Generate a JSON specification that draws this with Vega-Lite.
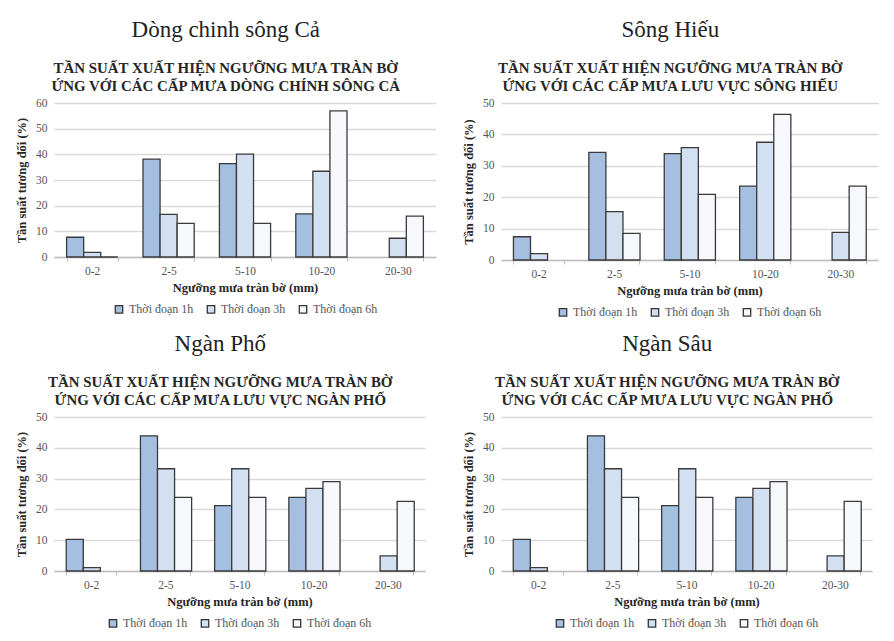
{
  "$schema": "https://vega.github.io/schema/vega-lite/v6.json",
  "background": "white",
  "padding": {"left": 15, "top": 19, "right": 4, "bottom": 2},
  "data": {"values": [
    {"panel": "TL", "range": "0-2", "duration": "Thời đoạn 1h", "value": 7.7},
    {"panel": "TL", "range": "0-2", "duration": "Thời đoạn 3h", "value": 1.8},
    {"panel": "TL", "range": "0-2", "duration": "Thời đoạn 6h", "value": 0},
    {"panel": "TL", "range": "2-5", "duration": "Thời đoạn 1h", "value": 38.1},
    {"panel": "TL", "range": "2-5", "duration": "Thời đoạn 3h", "value": 16.6},
    {"panel": "TL", "range": "2-5", "duration": "Thời đoạn 6h", "value": 13.1},
    {"panel": "TL", "range": "5-10", "duration": "Thời đoạn 1h", "value": 36.4},
    {"panel": "TL", "range": "5-10", "duration": "Thời đoạn 3h", "value": 40.1},
    {"panel": "TL", "range": "5-10", "duration": "Thời đoạn 6h", "value": 13.1},
    {"panel": "TL", "range": "10-20", "duration": "Thời đoạn 1h", "value": 16.8},
    {"panel": "TL", "range": "10-20", "duration": "Thời đoạn 3h", "value": 33.4},
    {"panel": "TL", "range": "10-20", "duration": "Thời đoạn 6h", "value": 56.9},
    {"panel": "TL", "range": "20-30", "duration": "Thời đoạn 3h", "value": 7.3},
    {"panel": "TL", "range": "20-30", "duration": "Thời đoạn 6h", "value": 15.9},
    {"panel": "TR", "range": "0-2", "duration": "Thời đoạn 1h", "value": 7.4},
    {"panel": "TR", "range": "0-2", "duration": "Thời đoạn 3h", "value": 2.0},
    {"panel": "TR", "range": "2-5", "duration": "Thời đoạn 1h", "value": 34.3},
    {"panel": "TR", "range": "2-5", "duration": "Thời đoạn 3h", "value": 15.4},
    {"panel": "TR", "range": "2-5", "duration": "Thời đoạn 6h", "value": 8.5},
    {"panel": "TR", "range": "5-10", "duration": "Thời đoạn 1h", "value": 33.9},
    {"panel": "TR", "range": "5-10", "duration": "Thời đoạn 3h", "value": 35.8},
    {"panel": "TR", "range": "5-10", "duration": "Thời đoạn 6h", "value": 20.9},
    {"panel": "TR", "range": "10-20", "duration": "Thời đoạn 1h", "value": 23.5},
    {"panel": "TR", "range": "10-20", "duration": "Thời đoạn 3h", "value": 37.5},
    {"panel": "TR", "range": "10-20", "duration": "Thời đoạn 6h", "value": 46.4},
    {"panel": "TR", "range": "20-30", "duration": "Thời đoạn 3h", "value": 8.8},
    {"panel": "TR", "range": "20-30", "duration": "Thời đoạn 6h", "value": 23.5},
    {"panel": "BL", "range": "0-2", "duration": "Thời đoạn 1h", "value": 10.3},
    {"panel": "BL", "range": "0-2", "duration": "Thời đoạn 3h", "value": 1.1},
    {"panel": "BL", "range": "2-5", "duration": "Thời đoạn 1h", "value": 43.9},
    {"panel": "BL", "range": "2-5", "duration": "Thời đoạn 3h", "value": 33.2},
    {"panel": "BL", "range": "2-5", "duration": "Thời đoạn 6h", "value": 23.9},
    {"panel": "BL", "range": "5-10", "duration": "Thời đoạn 1h", "value": 21.2},
    {"panel": "BL", "range": "5-10", "duration": "Thời đoạn 3h", "value": 33.2},
    {"panel": "BL", "range": "5-10", "duration": "Thời đoạn 6h", "value": 23.9},
    {"panel": "BL", "range": "10-20", "duration": "Thời đoạn 1h", "value": 23.9},
    {"panel": "BL", "range": "10-20", "duration": "Thời đoạn 3h", "value": 26.8},
    {"panel": "BL", "range": "10-20", "duration": "Thời đoạn 6h", "value": 29.0},
    {"panel": "BL", "range": "20-30", "duration": "Thời đoạn 3h", "value": 4.9},
    {"panel": "BL", "range": "20-30", "duration": "Thời đoạn 6h", "value": 22.6},
    {"panel": "BR", "range": "0-2", "duration": "Thời đoạn 1h", "value": 10.3},
    {"panel": "BR", "range": "0-2", "duration": "Thời đoạn 3h", "value": 1.1},
    {"panel": "BR", "range": "2-5", "duration": "Thời đoạn 1h", "value": 43.9},
    {"panel": "BR", "range": "2-5", "duration": "Thời đoạn 3h", "value": 33.2},
    {"panel": "BR", "range": "2-5", "duration": "Thời đoạn 6h", "value": 23.9},
    {"panel": "BR", "range": "5-10", "duration": "Thời đoạn 1h", "value": 21.2},
    {"panel": "BR", "range": "5-10", "duration": "Thời đoạn 3h", "value": 33.2},
    {"panel": "BR", "range": "5-10", "duration": "Thời đoạn 6h", "value": 23.9},
    {"panel": "BR", "range": "10-20", "duration": "Thời đoạn 1h", "value": 23.9},
    {"panel": "BR", "range": "10-20", "duration": "Thời đoạn 3h", "value": 26.8},
    {"panel": "BR", "range": "10-20", "duration": "Thời đoạn 6h", "value": 29.0},
    {"panel": "BR", "range": "20-30", "duration": "Thời đoạn 3h", "value": 4.9},
    {"panel": "BR", "range": "20-30", "duration": "Thời đoạn 6h", "value": 22.6}
  ]},
  "columns": 2,
  "spacing": {"row": 14, "column": 26},
  "resolve": {"scale": {"y": "independent", "x": "independent"}, "legend": {"fill": "independent"}},
  "concat": [
    {
      "width": 382, "height": 154,
      "title": {"text": "Dòng chinh  sông Cả", "subtitle": ["TẦN SUẤT XUẤT HIỆN NGƯỠNG MƯA TRÀN BỜ", "ỨNG VỚI CÁC CẤP MƯA DÒNG CHÍNH  SÔNG CẢ"]},
      "transform": [{"filter": "datum.panel === 'TL'"}],
      "mark": {"type": "bar", "stroke": "#3a3a3a", "strokeWidth": 1.3},
      "encoding": {
        "x": {"field": "range", "type": "nominal", "sort": ["0-2", "2-5", "5-10", "10-20", "20-30"], "scale": {"paddingInner": 0.33, "paddingOuter": 0.165}, "title": "Ngưỡng mưa tràn bờ (mm)"},
        "xOffset": {"field": "duration", "type": "nominal", "scale": {"domain": ["Thời đoạn 1h", "Thời đoạn 3h", "Thời đoạn 6h"], "paddingInner": 0, "paddingOuter": 0}},
        "y": {"field": "value", "type": "quantitative", "scale": {"domain": [0, 60]}, "axis": {"values": [0, 10, 20, 30, 40, 50, 60]}, "title": "Tần suất tương đối (%)"},
        "fill": {"field": "duration", "type": "nominal", "scale": {"domain": ["Thời đoạn 1h", "Thời đoạn 3h", "Thời đoạn 6h"], "range": ["#a5bfe0", "#d3e0f1", "#f6f8fc"]}}
      }
    },
    {
      "width": 377, "height": 157,
      "title": {"text": "Sông Hiếu", "subtitle": ["TẦN SUẤT XUẤT HIỆN NGƯỠNG MƯA TRÀN BỜ", "ỨNG VỚI CÁC CẤP MƯA LƯU VỰC SÔNG HIẾU"]},
      "transform": [{"filter": "datum.panel === 'TR'"}],
      "mark": {"type": "bar", "stroke": "#3a3a3a", "strokeWidth": 1.3},
      "encoding": {
        "x": {"field": "range", "type": "nominal", "sort": ["0-2", "2-5", "5-10", "10-20", "20-30"], "scale": {"paddingInner": 0.33, "paddingOuter": 0.165}, "title": "Ngưỡng mưa tràn bờ (mm)"},
        "xOffset": {"field": "duration", "type": "nominal", "scale": {"domain": ["Thời đoạn 1h", "Thời đoạn 3h", "Thời đoạn 6h"], "paddingInner": 0, "paddingOuter": 0}},
        "y": {"field": "value", "type": "quantitative", "scale": {"domain": [0, 50]}, "axis": {"values": [0, 10, 20, 30, 40, 50]}, "title": "Tần suất tương đối (%)"},
        "fill": {"field": "duration", "type": "nominal", "scale": {"domain": ["Thời đoạn 1h", "Thời đoạn 3h", "Thời đoạn 6h"], "range": ["#a5bfe0", "#d3e0f1", "#f6f8fc"]}}
      }
    },
    {
      "width": 371, "height": 154,
      "title": {"text": "Ngàn Phố", "subtitle": ["TẦN SUẤT XUẤT HIỆN NGƯỠNG MƯA TRÀN BỜ", "ỨNG VỚI CÁC CẤP MƯA LƯU VỰC NGÀN PHỐ"]},
      "transform": [{"filter": "datum.panel === 'BL'"}],
      "mark": {"type": "bar", "stroke": "#3a3a3a", "strokeWidth": 1.3},
      "encoding": {
        "x": {"field": "range", "type": "nominal", "sort": ["0-2", "2-5", "5-10", "10-20", "20-30"], "scale": {"paddingInner": 0.33, "paddingOuter": 0.165}, "title": "Ngưỡng mưa tràn bờ (mm)"},
        "xOffset": {"field": "duration", "type": "nominal", "scale": {"domain": ["Thời đoạn 1h", "Thời đoạn 3h", "Thời đoạn 6h"], "paddingInner": 0, "paddingOuter": 0}},
        "y": {"field": "value", "type": "quantitative", "scale": {"domain": [0, 50]}, "axis": {"values": [0, 10, 20, 30, 40, 50]}, "title": "Tần suất tương đối (%)"},
        "fill": {"field": "duration", "type": "nominal", "scale": {"domain": ["Thời đoạn 1h", "Thời đoạn 3h", "Thời đoạn 6h"], "range": ["#a5bfe0", "#d3e0f1", "#f6f8fc"]}}
      }
    },
    {
      "width": 371, "height": 154,
      "title": {"text": "Ngàn Sâu", "subtitle": ["TẦN SUẤT XUẤT HIỆN NGƯỠNG MƯA TRÀN BỜ", "ỨNG VỚI CÁC CẤP MƯA LƯU VỰC NGÀN PHỐ"]},
      "transform": [{"filter": "datum.panel === 'BR'"}],
      "mark": {"type": "bar", "stroke": "#3a3a3a", "strokeWidth": 1.3},
      "encoding": {
        "x": {"field": "range", "type": "nominal", "sort": ["0-2", "2-5", "5-10", "10-20", "20-30"], "scale": {"paddingInner": 0.33, "paddingOuter": 0.165}, "title": "Ngưỡng mưa tràn bờ (mm)"},
        "xOffset": {"field": "duration", "type": "nominal", "scale": {"domain": ["Thời đoạn 1h", "Thời đoạn 3h", "Thời đoạn 6h"], "paddingInner": 0, "paddingOuter": 0}},
        "y": {"field": "value", "type": "quantitative", "scale": {"domain": [0, 50]}, "axis": {"values": [0, 10, 20, 30, 40, 50]}, "title": "Tần suất tương đối (%)"},
        "fill": {"field": "duration", "type": "nominal", "scale": {"domain": ["Thời đoạn 1h", "Thời đoạn 3h", "Thời đoạn 6h"], "range": ["#a5bfe0", "#d3e0f1", "#f6f8fc"]}}
      }
    }
  ],
  "config": {
    "font": "Liberation Serif",
    "view": {"stroke": null},
    "title": {"font": "Liberation Serif", "fontSize": 23, "fontWeight": "normal", "color": "#222222", "subtitleFont": "Liberation Serif", "subtitleFontSize": 14.9, "subtitleFontWeight": "bold", "subtitleColor": "#262626", "subtitleLineHeight": 18, "subtitlePadding": 19, "offset": 3, "anchor": "middle", "frame": "bounds"},
    "axis": {"labelFont": "Liberation Serif", "labelFontSize": 11.5, "labelColor": "#555555", "titleFont": "Liberation Serif", "titleFontSize": 12.5, "titleFontWeight": "bold", "titleColor": "#262626"},
    "axisX": {"domainColor": "#bfbfbf", "domainWidth": 1.5, "ticks": true, "tickBand": "extent", "tickColor": "#bfbfbf", "tickSize": 4, "labelPadding": 4, "titlePadding": 5, "labelAngle": 0, "grid": false},
    "axisY": {"domain": false, "ticks": false, "labelPadding": 7, "titlePadding": 7, "grid": true, "gridColor": "#d9d9d9", "gridWidth": 1.5},
    "legend": {"orient": "bottom", "direction": "horizontal", "title": null, "symbolType": "square", "symbolSize": 55, "symbolStrokeColor": "#333333", "symbolStrokeWidth": 1.3, "labelFont": "Liberation Serif", "labelFontSize": 12, "labelColor": "#555555", "columnPadding": 10, "offset": 9, "labelLimit": 200, "layout": {"bottom": {"anchor": "middle"}}}
  }
}
